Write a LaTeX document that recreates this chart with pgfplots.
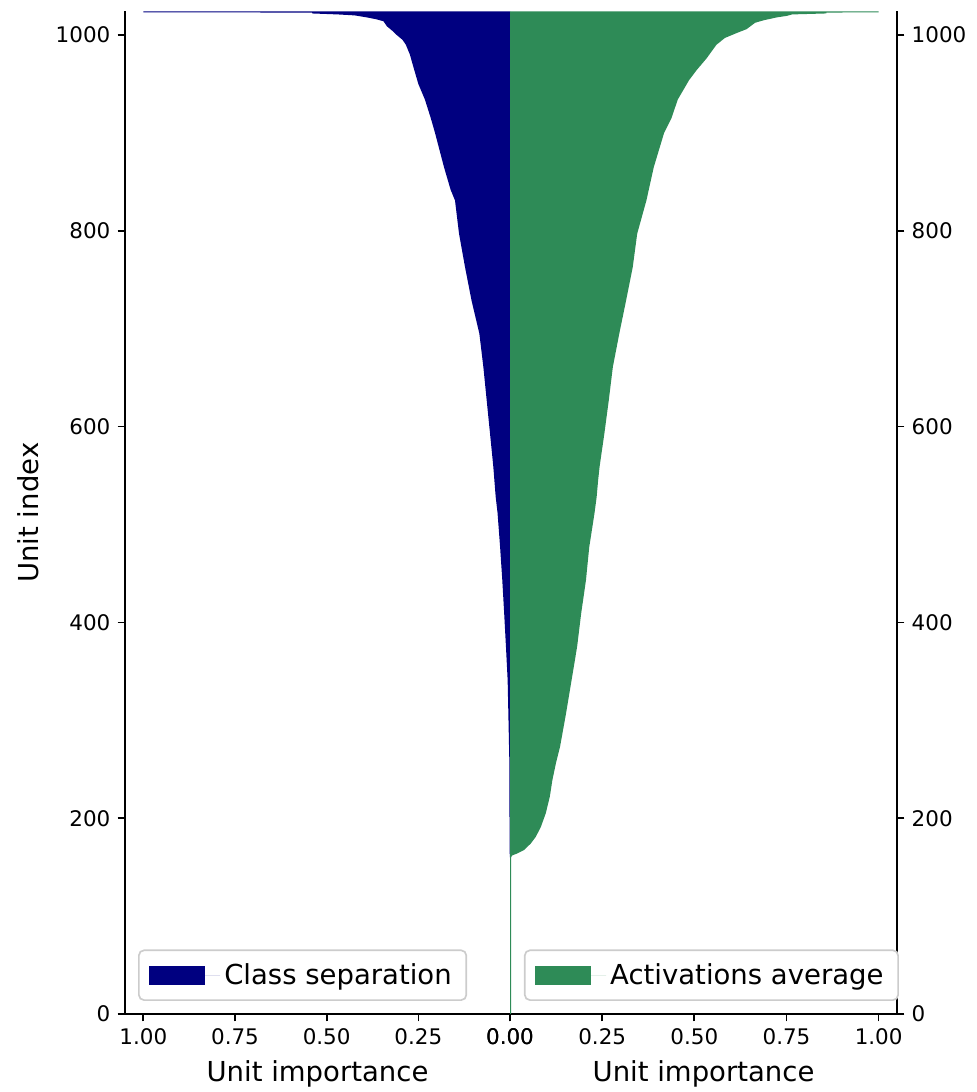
\documentclass[border=0pt]{standalone}
\usepackage{fontspec}
\setmainfont{DejaVu Sans}
\usepackage{pgfplots}
\usepackage{pgfplotstable}
\pgfplotsset{compat=1.18}
\definecolor{navyc}{HTML}{000080}
\definecolor{seagreenc}{HTML}{2E8B57}

\pgfplotstableread{
y v
0 0
160 0
165 0.001
262 0.002
307 0.0045
341 0.0064
375 0.011
410 0.016
443 0.021
477 0.027
512 0.034
528 0.039
559 0.0455
593 0.0545
627 0.0636
661 0.0727
695 0.0836
729 0.105
763 0.1227
797 0.139
831 0.150
842 0.162
865 0.180
900 0.2045
915 0.216
934 0.232
950 0.250
968 0.264
980 0.273
990 0.284
995 0.293
1000 0.309
1004 0.320
1009 0.336
1014 0.345
1016 0.364
1018 0.391
1020 0.423
1021 0.470
1022 0.540
1022.95 0.540
1023 1.0
1024 1.0
1024 0
}\classsep

\pgfplotstableread{
y v
0 0
0 0.003
160 0.003
162 0.006
164 0.020
167.5 0.038
174 0.056
181 0.070
191 0.0836
205 0.097
222 0.108
239 0.115
256 0.1245
273.5 0.136
307 0.152
341 0.167
375 0.182
409 0.193
443 0.206
477 0.215
511 0.229
528 0.235
545 0.239
559 0.243
593 0.256
627 0.268
661 0.279
696 0.297
729 0.315
763 0.333
797 0.345
831 0.370
865 0.390
900 0.418
915 0.438
934 0.455
954 0.486
964 0.506
976 0.533
990 0.560
997 0.583
1002 0.615
1006 0.642
1012.5 0.665
1015 0.688
1018 0.724
1019.5 0.751
1021 0.765
1022 0.858
1022.95 0.858
1023 1.0
1024 1.0
1024 0
}\actavg

\pgfplotsset{
  common/.style={
    scale only axis,
    height=481.2pt,
    ymin=0, ymax=1024,
    axis x line*=bottom,
    axis line style={-, line width=0.8pt},
    tick align=outside,
    major tick length=3.5pt,
    every tick/.style={black, line width=0.8pt},
    ytick={0,200,400,600,800,1000},
    /pgf/number format/assume math mode=true,
    /pgf/number format/1000 sep={},
    tick label style={font=\fontsize{10.3}{12}\selectfont},
    label style={font=\fontsize{13.2}{15}\selectfont},
    legend style={
      draw=black!20, rounded corners=2.5pt, line width=0.8pt,
      font=\fontsize{13.2}{15}\selectfont,
      inner xsep=5pt, inner ysep=4.2pt,
      anchor=south west,
    },
    legend image code/.code={\fill[##1, sharp corners] (0pt,-4.6pt) rectangle (26.9pt,4.6pt);
      \path (0pt,0pt) -- (34pt,0pt);},
    legend cell align=left,
  },
}

\begin{document}
\begin{tikzpicture}
\begin{axis}[common,
  name=leftax,
  at={(0,0)}, anchor=south west,
  width=184.8pt,
  xmin=-1.05, xmax=0,
  axis y line*=left,
  xtick={-1,-0.75,-0.5,-0.25,0},
  xticklabels={1.00,0.75,0.50,0.25,0.00},
  ylabel={Unit index},
  ylabel style={at={(axis description cs:0,0.5)}, anchor=center, rotate=0, yshift=46.6pt},
  xlabel={Unit importance},
  xlabel style={at={(axis description cs:0.5,0)}, anchor=base, yshift=-32.5pt},
  legend style={at={(axis description cs:0.0338,0.013)}},
]
\addplot[fill=navyc, draw=none] table[x expr=-\thisrow{v}, y=y] {\classsep} -- cycle;
\addlegendentry{Class separation}
\end{axis}
\begin{axis}[common,
  at={(leftax.south east)}, anchor=south west,
  width=185.8pt,
  xmin=0, xmax=1.05,
  axis y line*=right,
  xtick={0,0.25,0.5,0.75,1},
  xticklabels={0.00,0.25,0.50,0.75,1.00},
  xlabel={Unit importance},
  xlabel style={at={(axis description cs:0.5,0)}, anchor=base, yshift=-32.5pt},
  legend style={at={(axis description cs:0.036,0.013)}},
]
\addplot[fill=seagreenc, draw=none] table[x=v, y=y] {\actavg} -- cycle;
\addlegendentry{Activations average}
\end{axis}
\pgfresetboundingbox
\path[use as bounding box] (-60pt,-37.44pt) rectangle (408.48pt,486.72pt);
\end{tikzpicture}
\end{document}
